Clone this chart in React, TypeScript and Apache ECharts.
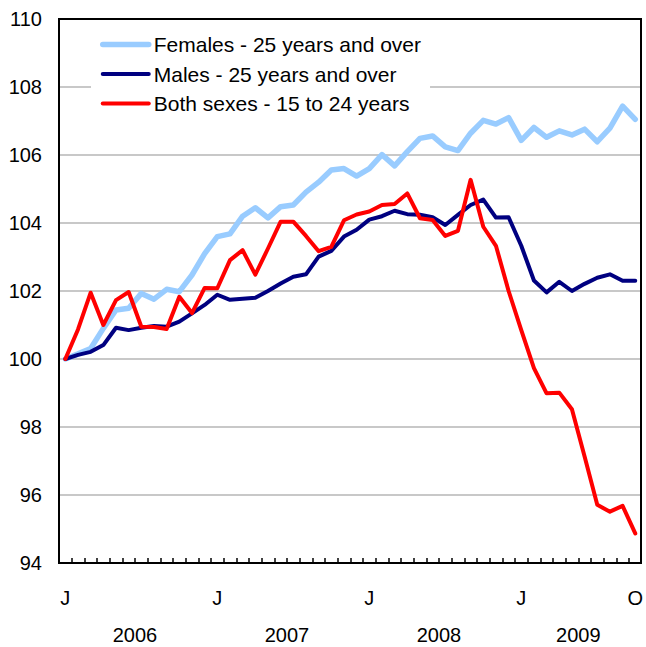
import React, { useEffect, useRef } from "react";
import * as echarts from "echarts";

const years = ["2006", "2007", "2008", "2009"];
const monthInitials = ["J", "F", "M", "A", "M", "J", "J", "A", "S", "O", "N", "D"];
const monthCount = 46; // Jan 2006 .. Oct 2009
const shownMonthIdx = [0, 12, 24, 36, 45];
const yearCenters = [6, 18, 30, 41];

const seriesNames = [
  "Females - 25 years and over",
  "Males - 25 years and over",
  "Both sexes - 15 to 24 years",
];

const females = [
  100.0, 100.15, 100.31, 100.9, 101.44, 101.49, 101.93, 101.76, 102.05, 101.98, 102.47, 103.1,
  103.6, 103.68, 104.2, 104.45, 104.15, 104.48, 104.53, 104.91, 105.2, 105.56, 105.6, 105.38,
  105.6, 106.01, 105.68, 106.1, 106.49, 106.56, 106.24, 106.13, 106.64, 107.02, 106.91, 107.1,
  106.43, 106.81, 106.52, 106.71, 106.59, 106.76, 106.39, 106.79, 107.44, 107.05,
];

const males = [
  100.0, 100.12, 100.21, 100.41, 100.92, 100.85, 100.92, 100.97, 100.95, 101.1, 101.34, 101.59,
  101.89, 101.74, 101.77, 101.8, 102.0, 102.22, 102.42, 102.49, 103.01, 103.18, 103.6, 103.8,
  104.1, 104.2, 104.36, 104.26, 104.24, 104.17, 103.94, 104.24, 104.53, 104.69, 104.16, 104.17,
  103.33, 102.31, 101.96, 102.27, 102.0, 102.21, 102.39, 102.49, 102.3, 102.3,
];

const youth = [
  100.0, 100.87, 101.95, 101.0, 101.73, 101.97, 100.95, 100.94, 100.88, 101.83, 101.35, 102.09,
  102.08, 102.91, 103.2, 102.48, 103.25, 104.04, 104.04, 103.62, 103.17, 103.3, 104.08, 104.25,
  104.34, 104.53, 104.56, 104.87, 104.14, 104.09, 103.62, 103.77, 105.27, 103.89, 103.33, 102.0,
  100.85, 99.73, 98.99, 99.01, 98.52, 97.13, 95.71, 95.51, 95.68, 94.87,
];

const yMin = 94;
const yMax = 110;
const yStep = 2;

const categories: string[] = [];
for (let i = 0; i < monthCount; i++) {
  const y = years[Math.floor(i / 12)];
  categories.push(`${y}-${monthInitials[i % 12]}${i % 12}`);
}

export default function App() {
  const ref = useRef<HTMLDivElement>(null);

  useEffect(() => {
    if (!ref.current) return;
    const chart = echarts.init(ref.current, undefined, { renderer: "svg" });
    const font = "'Liberation Sans', Arial, Helvetica, sans-serif";
    chart.setOption({
      animation: false,
      backgroundColor: "#ffffff",
      textStyle: { fontFamily: font },
      grid: { left: 59, top: 19, right: 1, bottom: 84, containLabel: false },
      legend: {
        orient: "vertical",
        left: 91,
        top: 25,
        padding: [9, 9, 9, 9],
        backgroundColor: "#ffffff",
        itemWidth: 46,
        itemHeight: 14,
        itemGap: 8.5,
        textStyle: { fontSize: 21, color: "#000", fontFamily: font, lineHeight: 21 },
        lineStyle: { width: "inherit", cap: "round" },
        itemStyle: { opacity: 0 },
        data: seriesNames,
        z: 20,
      },
      xAxis: [
        {
          type: "category",
          data: categories,
          boundaryGap: true,
          axisLine: { show: false },
          axisTick: {
            show: true,
            inside: true,
            length: 5,
            interval: 0,
            lineStyle: { color: "#000", width: 1.5 },
          },
          axisLabel: {
            interval: (index: number) => shownMonthIdx.includes(index),
            formatter: (_v: string, index: number) => monthInitials[index % 12],
            fontSize: 20,
            color: "#000",
            margin: 25,
            fontFamily: font,
          },
          splitLine: { show: false },
        },
        {
          type: "value",
          min: 0,
          max: monthCount,
          interval: 1,
          position: "bottom",
          axisLine: { show: false },
          axisTick: { show: false },
          splitLine: { show: false },
          axisLabel: {
            formatter: (v: number) => {
              const k = yearCenters.indexOf(v);
              return k >= 0 ? years[k] : "";
            },
            fontSize: 20,
            color: "#000",
            margin: 62,
            fontFamily: font,
          },
        },
      ],
      yAxis: {
        type: "value",
        min: yMin,
        max: yMax,
        interval: yStep,
        axisLine: { show: false },
        axisTick: { show: false },
        axisLabel: { fontSize: 20, color: "#000", margin: 17, fontFamily: font },
        splitLine: { show: true, lineStyle: { color: "#c8c8c8", width: 2 } },
      },
      series: [
        {
          name: seriesNames[0],
          type: "line",
          data: females,
          symbol: "none",
          lineStyle: { color: "#99ccff", width: 5.5, join: "round", cap: "round" },
          itemStyle: { color: "#99ccff" },
          z: 2,
        },
        {
          name: seriesNames[1],
          type: "line",
          data: males,
          symbol: "none",
          lineStyle: { color: "#000080", width: 4, join: "round", cap: "round" },
          itemStyle: { color: "#000080" },
          z: 3,
        },
        {
          name: seriesNames[2],
          type: "line",
          data: youth,
          symbol: "none",
          lineStyle: { color: "#ff0000", width: 4, join: "round", cap: "round" },
          itemStyle: { color: "#ff0000" },
          z: 4,
        },
      ],
      graphic: [
        {
          type: "rect",
          z: 100,
          shape: { x: 642, y: 550, width: 4, height: 14 },
          style: { fill: "#ffffff" },
          silent: true,
        },
        {
          type: "rect",
          z: 101,
          shape: { x: 59, y: 19, width: 582, height: 544 },
          style: { fill: "none", stroke: "#000", lineWidth: 2 },
          silent: true,
        },
      ],
    });
    return () => chart.dispose();
  }, []);

  return (
    <div
      ref={ref}
      style={{ position: "absolute", left: 0, top: 0, width: 646, height: 647 }}
    />
  );
}
